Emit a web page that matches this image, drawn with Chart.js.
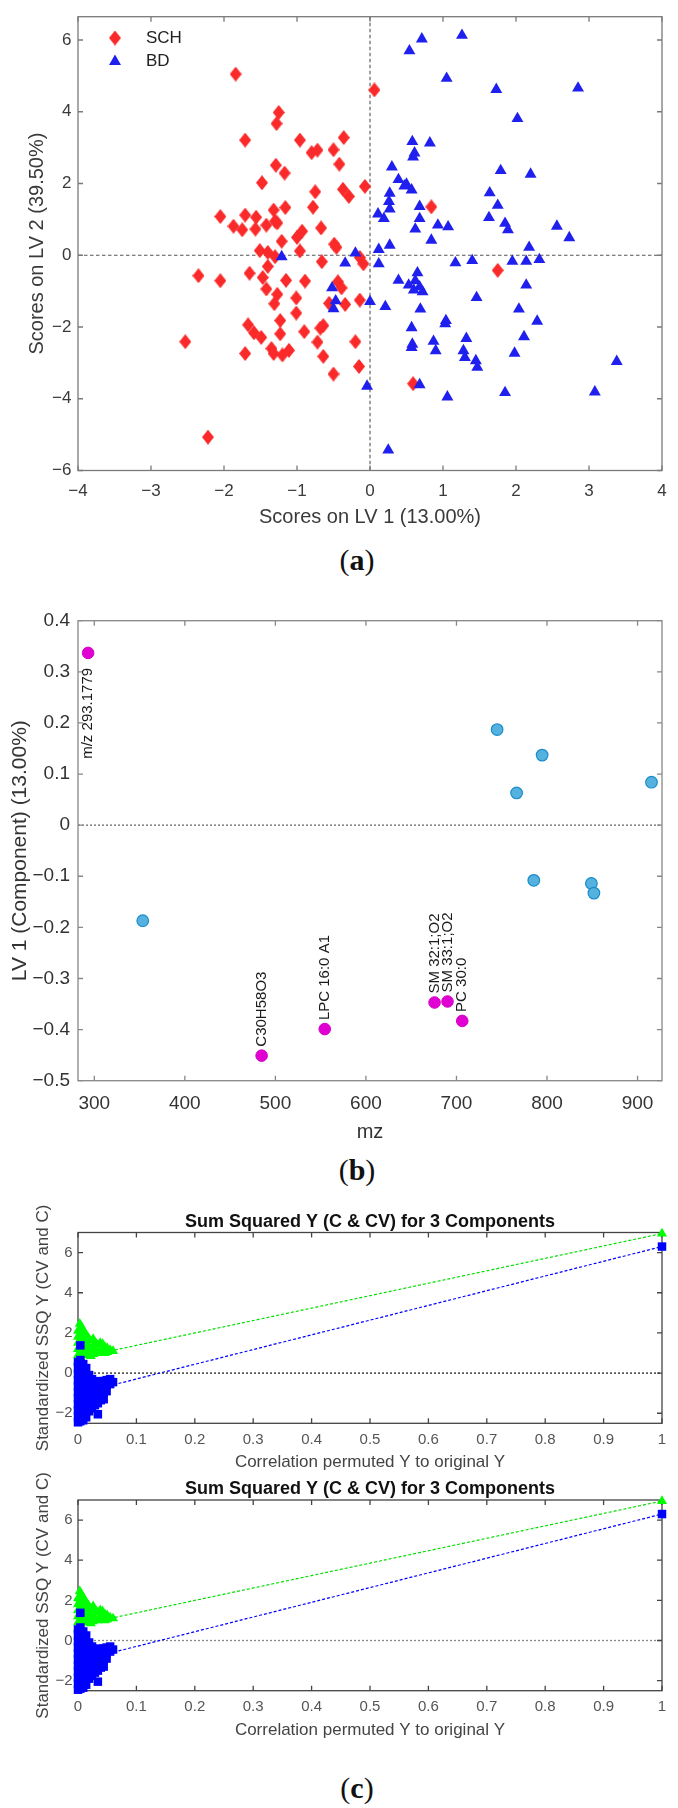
<!DOCTYPE html>
<html>
<head>
<meta charset="utf-8">
<script src="https://cdn.jsdelivr.net/npm/chart.js@4.4.1/dist/chart.umd.min.js"></script>
<style>
  html, body { margin: 0; padding: 0; background: #fff; }
  body { width: 678px; height: 1808px; position: relative; overflow: hidden; }
  canvas { position: absolute; left: 0; }
  .cap { position: absolute; font-family: "Liberation Serif", "Times New Roman", serif; font-size: 30px; color: #111;
         transform: translate(-50%, -50%); white-space: nowrap; line-height: 1; }
  .cap b { font-weight: bold; }
</style>
</head>
<body>
<canvas id="chartA" width="678" height="540" style="top:0px"></canvas>
<canvas id="chartB" width="678" height="550" style="top:600px"></canvas>
<canvas id="chartC1" width="678" height="285" style="top:1190px"></canvas>
<canvas id="chartC2" width="678" height="290" style="top:1458px"></canvas>
<div class="cap" style="left:357px; top:560px">(<b>a</b>)</div>
<div class="cap" style="left:357px; top:1170px">(<b>b</b>)</div>
<div class="cap" style="left:357px; top:1788px">(<b>c</b>)</div>
<script>
// ---------------- DATA ----------------
// (a) PLS-DA scores: [LV1, LV2]
const schScores = [
  [-1.84,5.05],[0.06,4.61],[-1.25,3.98],[-1.28,3.67],[-1.71,3.21],[-0.96,3.21],[-0.36,3.28],
  [-0.80,2.86],[-0.72,2.93],[-0.50,2.94],[-0.42,2.54],[-1.29,2.51],[-1.17,2.29],[-1.48,2.02],
  [-0.75,1.77],[-0.37,1.84],[-0.29,1.64],[-0.07,1.92],[-0.78,1.34],[-1.16,1.33],[-1.32,1.26],
  [-1.30,0.95],[-1.27,0.90],[-1.42,0.84],[-1.57,0.73],[-1.75,0.71],[-1.87,0.81],[-2.05,1.08],
  [-1.71,1.12],[-1.56,1.06],[-0.67,0.76],[-0.93,0.67],[-1.00,0.50],[-1.21,0.39],[-0.96,0.12],
  [-0.49,0.31],[-0.46,0.22],[0.84,1.35],[-1.51,0.13],[-1.40,0.08],[-1.30,-0.04],[-1.40,-0.31],
  [-2.35,-0.57],[-2.05,-0.71],[-1.65,-0.50],[-1.47,-0.62],[-1.15,-0.70],[-0.89,-0.72],[-1.42,-0.94],
  [-1.27,-1.09],[-1.31,-1.35],[-1.01,-1.19],[-1.01,-1.61],[-1.23,-1.82],[-1.67,-1.94],[-1.59,-2.16],
  [-1.49,-2.29],[-1.23,-2.19],[-2.53,-2.41],[-1.71,-2.74],[-1.35,-2.60],[-1.32,-2.74],[-1.20,-2.78],
  [-1.11,-2.65],[-2.22,-5.07],[-0.66,-0.18],[-0.14,-0.06],[-0.09,-0.24],[-0.44,-0.74],[-0.39,-0.91],
  [-0.56,-1.34],[-0.34,-1.37],[-0.14,-1.25],[-0.90,-2.13],[-0.68,-2.03],[-0.64,-1.96],[-0.72,-2.42],
  [-0.20,-2.41],[-0.64,-2.82],[-0.15,-3.10],[-0.50,-3.31],[0.59,-3.58],[1.75,-0.42]
];
const bdScores = [
  [0.71,6.03],[1.26,6.13],[0.54,5.70],[1.05,4.93],[1.73,4.62],[2.85,4.66],[2.02,3.81],[0.58,3.17],
  [0.82,3.13],[0.61,2.85],[0.59,2.74],[1.79,2.36],[2.20,2.26],[0.30,2.46],[0.39,2.11],[0.50,1.98],
  [0.47,1.93],[0.57,1.82],[1.64,1.74],[0.27,1.73],[0.26,1.50],[0.68,1.36],[1.75,1.39],[0.27,1.29],
  [0.11,1.15],[0.19,1.02],[0.68,1.02],[1.63,1.05],[1.85,0.89],[0.93,0.84],[1.07,0.79],[0.62,0.73],
  [1.89,0.71],[2.56,0.81],[2.73,0.49],[0.84,0.42],[2.18,0.22],[0.27,0.28],[0.12,0.16],[-0.20,0.06],
  [-1.21,-0.04],[-0.34,-0.22],[0.12,-0.24],[1.17,-0.21],[1.40,-0.15],[1.95,-0.17],[2.14,-0.17],
  [2.32,-0.12],[0.39,-0.70],[0.65,-0.49],[0.53,-0.83],[0.62,-0.71],[0.60,-0.97],[0.68,-0.88],
  [0.72,-1.02],[1.46,-1.18],[2.14,-0.83],[-0.52,-0.91],[-0.47,-1.27],[-0.50,-1.49],[0.00,-1.29],
  [0.21,-1.43],[0.69,-1.50],[1.04,-1.82],[1.03,-1.91],[0.57,-2.02],[1.32,-2.32],[0.87,-2.40],
  [0.90,-2.66],[0.58,-2.48],[0.57,-2.57],[1.28,-2.66],[1.30,-2.85],[1.45,-2.94],[1.47,-3.12],
  [-0.04,-3.65],[0.68,-3.61],[1.06,-3.95],[1.85,-3.83],[3.38,-2.96],[3.08,-3.81],[0.25,-5.43],
  [2.29,-1.84],[2.11,-2.27],[1.98,-2.73],[2.04,-1.50]
];
const scoreTicksX = [-4,-3,-2,-1,0,1,2,3,4];
const scoreTicksY = [-6,-4,-2,0,2,4,6];

// (b) LV1 loadings vs m/z
const selectedMz = [293.1779, 484.8, 554.5, 675.8, 690.1, 706.4];
const selectedLV1 = [0.337, -0.451, -0.399, -0.347, -0.345, -0.383];
const selectedNames = ['m/z 293.1779', 'C30H58O3', 'LPC 16:0 A1', 'SM 32:1;O2', 'SM 33:1;O2', 'PC 30:0'];
const otherMz = [353.5, 744.9, 766.4, 785.4, 794.6, 849.0, 851.8, 915.4];
const otherLV1 = [-0.187, 0.187, 0.063, -0.108, 0.137, -0.114, -0.133, 0.084];
const mzTicks = [300,400,500,600,700,800,900];
const loadingTicks = [-0.5,-0.4,-0.3,-0.2,-0.1,0,0.1,0.2,0.3,0.4];

// (c) permutation test: [correlation, standardized SSQ Y]
const fitPermuted = [
  [0,0.6],[0,0.9],[0,1.2],[0,1.5],[0,1.8],[0,2.1],
  [0.003,2.45],[0.003,1.95],[0.003,1.35],[0.003,0.8],
  [0.006,2.3],[0.006,2.0],[0.006,1.6],[0.006,1.1],[0.006,0.7],
  [0.010,2.1],[0.010,1.7],[0.010,1.3],[0.010,0.9],
  [0.014,1.9],[0.014,1.5],[0.014,1.0],
  [0.018,1.75],[0.018,1.35],[0.018,0.9],
  [0.022,1.6],[0.022,1.2],[0.022,0.85],
  [0.026,1.7],[0.026,1.3],[0.026,0.95],
  [0.030,1.5],[0.030,1.1],[0.034,1.4],[0.034,1.0],
  [0.038,1.5],[0.038,1.15],[0.042,1.45],[0.042,1.1],
  [0.046,1.3],[0.046,1.0],[0.050,1.25],[0.050,1.05],
  [0.055,1.15],[0.060,1.1]
];
const cvPermuted = [
  [0,-2.45],[0,-2.15],[0,-1.85],[0,-1.55],[0,-1.25],[0,-0.95],[0,-0.65],[0,-0.35],[0,-0.05],[0,0.25],[0,0.55],
  [0.004,-2.4],[0.004,-2.1],[0.004,-1.8],[0.004,-1.5],[0.004,-1.2],[0.004,-0.9],[0.004,-0.6],[0.004,-0.3],
  [0.004,0.0],[0.004,0.3],[0.004,0.65],[0.004,1.38],
  [0.009,-2.35],[0.009,-2.0],[0.009,-1.7],[0.009,-1.4],[0.009,-1.1],[0.009,-0.8],[0.009,-0.5],[0.009,-0.2],
  [0.009,0.1],[0.009,0.45],
  [0.014,-2.2],[0.014,-1.9],[0.014,-1.6],[0.014,-1.3],[0.014,-1.0],[0.014,-0.7],[0.014,-0.4],[0.014,-0.1],[0.014,0.25],
  [0.019,-1.9],[0.019,-1.6],[0.019,-1.3],[0.019,-1.0],[0.019,-0.7],[0.019,-0.4],[0.019,-0.1],
  [0.024,-1.75],[0.024,-1.45],[0.024,-1.15],[0.024,-0.85],[0.024,-0.55],[0.024,-0.3],
  [0.029,-1.6],[0.029,-1.3],[0.029,-1.0],[0.029,-0.7],[0.029,-0.45],
  [0.034,-2.05],[0.034,-1.5],[0.034,-1.2],[0.034,-0.9],[0.034,-0.6],[0.034,-0.4],
  [0.039,-1.35],[0.039,-1.05],[0.039,-0.75],[0.039,-0.45],
  [0.044,-1.3],[0.044,-1.0],[0.044,-0.7],[0.044,-0.4],
  [0.049,-0.9],[0.049,-0.6],[0.049,-0.35],
  [0.055,-0.55],[0.055,-0.3],[0.060,-0.45]
];
const fitOriginal = [[1, 6.95]];
const cvOriginal = [[1, 6.30]];
const fitTrend = [[0.063, 1.15], [1, 6.95]];
const cvTrend = [[0.061, -0.58], [1, 6.30]];
const corrTicks = [0,0.1,0.2,0.3,0.4,0.5,0.6,0.7,0.8,0.9,1];
const ssqTicks = [-2,0,2,4,6];

// ---------------- HELPERS ----------------
const FONT = '"Liberation Sans", Arial, Helvetica, sans-serif';
const pts = arr => arr.map(([x, y]) => ({x, y}));
const fmt = v => String(Math.round(v * 1000) / 1000).replace('-', '\u2212');

function scaleOpts(o) {
  return {
    type: 'linear', min: o.min, max: o.max, position: o.position,
    afterBuildTicks: s => { s.ticks = o.ticks.map(v => ({value: v})); },
    afterFit: s => { if (o.position === 'bottom') s.height = o.size; else s.width = o.size; },
    grid: {display: false, drawTicks: false},
    border: {display: false},
    ticks: {font: {family: FONT, size: o.tickSize}, color: o.tickColor, padding: o.tickPad,
            maxRotation: 0, minRotation: 0, autoSkip: false, callback: v => fmt(v)},
    title: {display: true, text: o.title, font: {family: FONT, size: o.titleSize},
            color: o.titleColor, padding: o.titlePad}
  };
}

const framePlugin = {
  id: 'frame',
  beforeDatasetsDraw(chart, args, opts) {
    const {ctx, chartArea: a, scales: {x, y}} = chart;
    ctx.save();
    if (opts.zero) {
      ctx.strokeStyle = opts.zero.color; ctx.lineWidth = opts.zero.width; ctx.setLineDash(opts.zero.dash);
      ctx.beginPath();
      if (opts.zero.x) { const px = x.getPixelForValue(0); ctx.moveTo(px, a.top); ctx.lineTo(px, a.bottom); }
      if (opts.zero.y) { const py = y.getPixelForValue(0); ctx.moveTo(a.left, py); ctx.lineTo(a.right, py); }
      ctx.stroke();
      ctx.setLineDash([]);
    }
    ctx.strokeStyle = opts.color; ctx.lineWidth = opts.width;
    ctx.strokeRect(a.left, a.top, a.right - a.left, a.bottom - a.top);
    const L = opts.tick;
    ctx.beginPath();
    x.ticks.forEach(t => {
      const px = x.getPixelForValue(t.value);
      ctx.moveTo(px, a.bottom); ctx.lineTo(px, a.bottom - L);
      ctx.moveTo(px, a.top); ctx.lineTo(px, a.top + L);
    });
    y.ticks.forEach(t => {
      const py = y.getPixelForValue(t.value);
      ctx.moveTo(a.left, py); ctx.lineTo(a.left + L, py);
      ctx.moveTo(a.right, py); ctx.lineTo(a.right - L, py);
    });
    ctx.stroke();
    ctx.restore();
  }
};

function diamondImage(w, h, color) {
  const c = document.createElement('canvas');
  c.width = w; c.height = h;
  const g = c.getContext('2d');
  g.fillStyle = color;
  g.beginPath(); g.moveTo(w / 2, 0); g.lineTo(w, h / 2); g.lineTo(w / 2, h); g.lineTo(0, h / 2); g.closePath();
  g.fill();
  return c;
}
const RED = '#fa2a2a', BLUE = '#2020ee';
const diamond = diamondImage(12, 15, RED);

const legendPlugin = {
  id: 'scoreLegend',
  afterDraw(chart) {
    const {ctx} = chart;
    ctx.save();
    ctx.drawImage(diamond, 115 - 6, 38 - 7.5);
    ctx.fillStyle = BLUE;
    ctx.beginPath(); ctx.moveTo(115, 54.5); ctx.lineTo(121, 65); ctx.lineTo(109, 65); ctx.closePath(); ctx.fill();
    ctx.fillStyle = '#222';
    ctx.font = '17px ' + FONT; ctx.textBaseline = 'middle'; ctx.textAlign = 'left';
    ctx.fillText('SCH', 146, 38);
    ctx.fillText('BD', 146, 61);
    ctx.restore();
  }
};

const nameLabelPlugin = {
  id: 'nameLabels',
  afterDatasetsDraw(chart) {
    const {ctx, scales: {x, y}} = chart;
    ctx.save();
    ctx.font = '15px ' + FONT; ctx.fillStyle = '#1a1a1a'; ctx.textBaseline = 'middle';
    selectedNames.forEach((name, i) => {
      const px = x.getPixelForValue(selectedMz[i]);
      const py = y.getPixelForValue(selectedLV1[i]);
      ctx.save();
      if (selectedLV1[i] > 0) { ctx.translate(px, py + 15); ctx.rotate(-Math.PI / 2); ctx.textAlign = 'right'; }
      else { ctx.translate(px, py - 9); ctx.rotate(-Math.PI / 2); ctx.textAlign = 'left'; }
      ctx.fillText(name, 0, 0);
      ctx.restore();
    });
    ctx.restore();
  }
};

const baseOpts = {
  responsive: false, animation: false, events: [],
  plugins: {legend: {display: false}, tooltip: {enabled: false}}
};

// ---------------- (a) ----------------
new Chart(document.getElementById('chartA'), {
  type: 'scatter',
  data: {datasets: [
    {data: pts(bdScores), pointStyle: 'triangle', pointRadius: 6.9, backgroundColor: BLUE, borderWidth: 0, order: 0},
    {data: pts(schScores), pointStyle: diamond, pointRadius: 7, backgroundColor: RED, borderWidth: 0, order: 1}
  ]},
  options: Object.assign({}, baseOpts, {
    layout: {padding: {top: 9.3, right: 16, left: 0, bottom: 0}},
    scales: {
      x: scaleOpts({min: -4, max: 4, ticks: scoreTicksX, position: 'bottom', size: 69.5, tickSize: 17, tickColor: '#3a3a3a',
        tickPad: 10.5, title: 'Scores on LV 1 (13.00%)', titleSize: 20, titleColor: '#3a3a3a', titlePad: {top: 0, bottom: 11}}),
      y: scaleOpts({min: -6, max: 6.65, ticks: scoreTicksY, position: 'left', size: 78, tickSize: 17, tickColor: '#3a3a3a',
        tickPad: 6.5, title: 'Scores on LV 2 (39.50%)', titleSize: 20, titleColor: '#3a3a3a', titlePad: {top: 25.8, bottom: 0}})
    },
    plugins: Object.assign({}, baseOpts.plugins, {
      frame: {color: '#7a7a7a', width: 1.3, tick: 5, zero: {x: true, y: true, color: '#555', width: 1.1, dash: [3.5, 2.5]}}
    })
  }),
  plugins: [framePlugin, legendPlugin]
});

// ---------------- (b) ----------------
new Chart(document.getElementById('chartB'), {
  type: 'scatter',
  data: {datasets: [
    {data: selectedMz.map((m, i) => ({x: m, y: selectedLV1[i]})), pointStyle: 'circle', pointRadius: 5.8,
     backgroundColor: '#e000d2', borderColor: '#d400c8', borderWidth: 1},
    {data: otherMz.map((m, i) => ({x: m, y: otherLV1[i]})), pointStyle: 'circle', pointRadius: 5.8,
     backgroundColor: '#55b2de', borderColor: '#1a8ccc', borderWidth: 1.2}
  ]},
  options: Object.assign({}, baseOpts, {
    layout: {padding: {top: 20.7, right: 16, left: 0, bottom: 0}},
    scales: {
      x: scaleOpts({min: 282, max: 927, ticks: mzTicks, position: 'bottom', size: 69.3, tickSize: 19, tickColor: '#333',
        tickPad: 11.2, title: 'mz', titleSize: 20, titleColor: '#333', titlePad: {top: 0, bottom: 6}}),
      y: scaleOpts({min: -0.5, max: 0.4, ticks: loadingTicks, position: 'left', size: 78, tickSize: 19, tickColor: '#333',
        tickPad: 8, title: 'LV 1 (Component) (13.00%)', titleSize: 21, titleColor: '#333', titlePad: {top: 7.4, bottom: 0}})
    },
    plugins: Object.assign({}, baseOpts.plugins, {
      frame: {color: '#888', width: 1.3, tick: 5, zero: {y: true, color: '#777', width: 1.4, dash: [2, 2]}}
    })
  }),
  plugins: [framePlugin, nameLabelPlugin]
});

// ---------------- (c) ----------------
function permChart(id, titlePad, xSize, tickPad, xTitlePad, zeroColor) {
  new Chart(document.getElementById(id), {
    type: 'scatter',
    data: {datasets: [
      {data: pts(fitTrend), showLine: true, borderColor: '#00e000', borderWidth: 1.2, borderDash: [3, 2], pointRadius: 0, order: 0, clip: false},
      {data: pts(cvTrend), showLine: true, borderColor: '#0000ff', borderWidth: 1.2, borderDash: [3, 2], pointRadius: 0, order: 0, clip: false},
      {data: pts(cvPermuted), pointStyle: 'rect', pointRadius: 6, backgroundColor: '#0000ff', borderWidth: 0, order: 1, clip: false},
      {data: pts(cvOriginal), pointStyle: 'rect', pointRadius: 6, backgroundColor: '#0000ff', borderWidth: 0, order: 1, clip: false},
      {data: pts(fitPermuted), pointStyle: 'triangle', pointRadius: 5.8, backgroundColor: '#00ff00', borderWidth: 0, order: 2, clip: false},
      {data: pts(fitOriginal), pointStyle: 'triangle', pointRadius: 5.8, backgroundColor: '#00ff00', borderWidth: 0, order: 2, clip: false}
    ]},
    options: Object.assign({}, baseOpts, {
      layout: {padding: {top: 0, right: 16, left: 0, bottom: 0}},
      scales: {
        x: scaleOpts({min: 0, max: 1, ticks: corrTicks, position: 'bottom', size: xSize, tickSize: 15, tickColor: '#555',
          tickPad: tickPad, title: 'Correlation permuted Y to original Y', titleSize: 17, titleColor: '#444', titlePad: {top: 0, bottom: xTitlePad}}),
        y: scaleOpts({min: -2.5, max: 7, ticks: ssqTicks, position: 'left', size: 78, tickSize: 15, tickColor: '#555',
          tickPad: 5.3, title: 'Standardized SSQ Y (CV and C)', titleSize: 17, titleColor: '#444', titlePad: {top: 33.3, bottom: 0}})
      },
      plugins: Object.assign({}, baseOpts.plugins, {
        title: {display: true, fullSize: false, text: 'Sum Squared Y (C & CV) for 3 Components', color: '#111',
                font: {family: FONT, size: 18, weight: 'bold'}, padding: titlePad},
        frame: {color: '#444', width: 1.3, tick: 5, zero: {y: true, color: zeroColor, width: 1.3, dash: [2, 2]}}
      })
    }),
    plugins: [framePlugin]
  });
}
permChart('chartC1', {top: 20.9, bottom: 0}, 51.7, 7.7, 2.8, '#222');
permChart('chartC2', {top: 20.2, bottom: 0.2}, 57.3, 7, 7.8, '#888');
</script>
</body>
</html>
